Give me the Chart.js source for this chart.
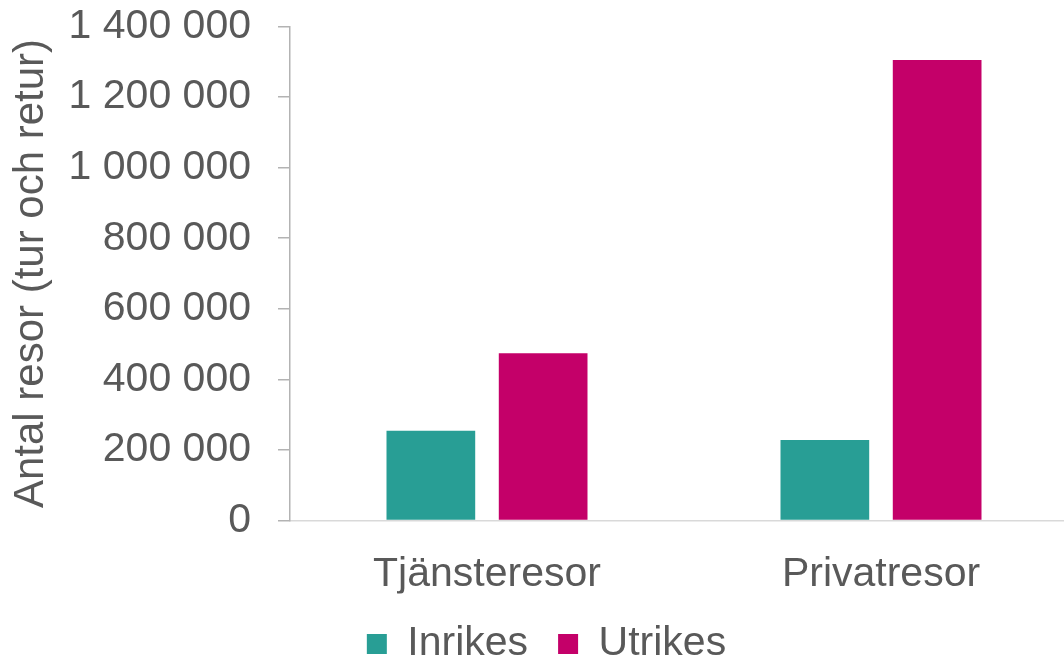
<!DOCTYPE html>
<html>
<head>
<meta charset="utf-8">
<script src="https://cdn.jsdelivr.net/npm/chart.js@4"></script>
<style>
    html, body { margin: 0; padding: 0; background: #fff; overflow: hidden; }
    #wrap { width: 1078px; height: 661px; }
</style>
</head>
<body>
<div id="wrap"><canvas id="chart" width="1078" height="661"></canvas></div>
<script>
// ===== DATA =====
const categories = ['Tjänsteresor', 'Privatresor'];
const inrikes = [254000, 228000];
const utrikes = [474000, 1305000];
const yMin = 0;
const yMax = 1400000;
const yStep = 200000;

const textColor = '#595959';
const fontFamily = '"Liberation Sans", Arial, sans-serif';

function formatNumber(v) {
    return String(v).replace(/\B(?=(\d{3})+(?!\d))/g, ' ');
}

// ===== CHART =====
const ctx = document.getElementById('chart').getContext('2d');

new Chart(ctx, {
    type: 'bar',
    data: {
        labels: categories,
        datasets: [
            { label: 'Inrikes', data: inrikes, backgroundColor: '#289E95' },
            { label: 'Utrikes', data: utrikes, backgroundColor: '#C40069' }
        ]
    },
    options: {
        responsive: false,
        animation: false,
        categoryPercentage: 0.57,
        barPercentage: 0.79,
        layout: { padding: { left: 15, top: 26.5, right: 0, bottom: 0 } },
        plugins: {
            tooltip: { enabled: false },
            legend: {
                position: 'bottom',
                maxHeight: 67.5,
                labels: {
                    boxWidth: 20,
                    boxHeight: 20,
                    padding: 30,
                    color: textColor,
                    font: { family: fontFamily, size: 41 }
                }
            }
        },
        scales: {
            x: {
                grid: { display: false },
                border: { color: '#d9d9d9', width: 1.5 },
                ticks: {
                    color: textColor,
                    padding: 22,
                    font: { family: fontFamily, size: 41 }
                },
                afterFit: scale => { scale.height = 73; }
            },
            y: {
                min: yMin,
                max: yMax,
                grid: {
                    drawOnChartArea: false,
                    drawTicks: true,
                    tickLength: 12,
                    color: '#b3b3b3',
                    lineWidth: 1.5
                },
                border: { color: '#b3b3b3', width: 1.5 },
                ticks: {
                    stepSize: yStep,
                    padding: 27,
                    color: textColor,
                    font: { family: fontFamily, size: 41 },
                    callback: v => formatNumber(v)
                },
                title: {
                    display: true,
                    text: 'Antal resor (tur och retur)',
                    color: textColor,
                    padding: { top: 0, bottom: 0 },
                    font: { family: fontFamily, size: 42, lineHeight: 0.8 }
                },
                afterFit: scale => {
                    scale.width = 275;
                    scale.paddingTop = 0;
                    scale.paddingBottom = 0;
                }
            }
        }
    }
});
</script>
</body>
</html>
